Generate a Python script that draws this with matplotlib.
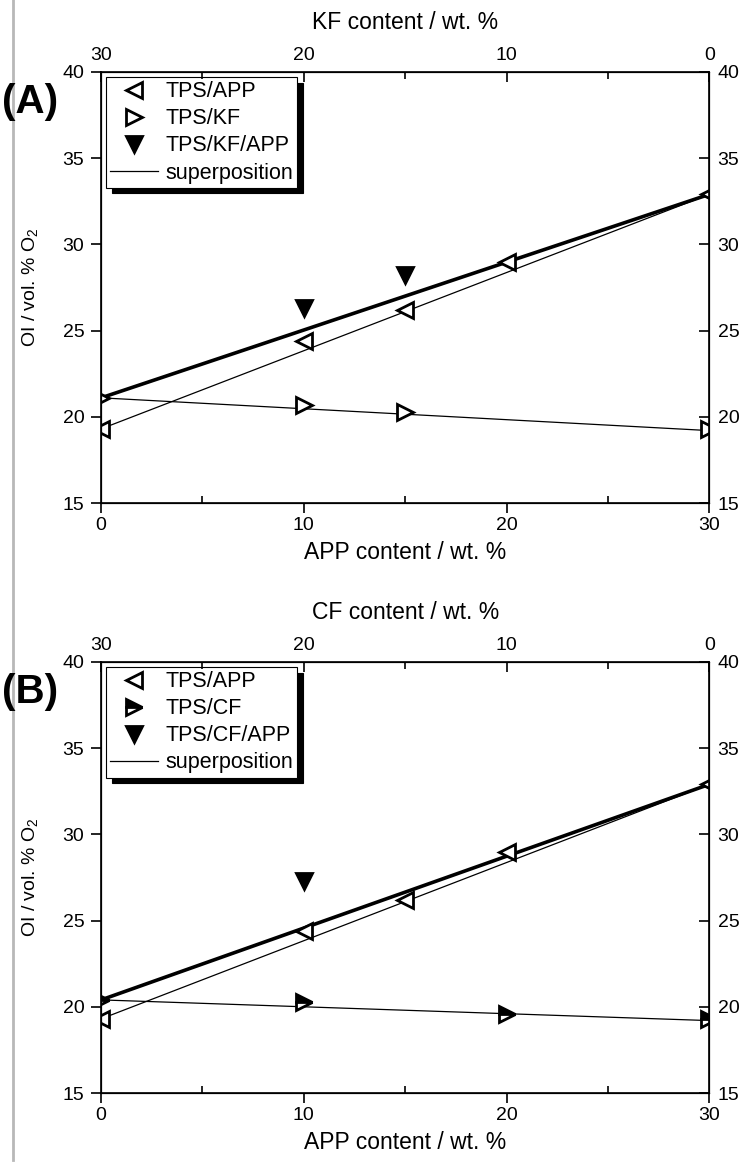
import matplotlib
matplotlib.use("Agg")
import matplotlib.pyplot as plt
from matplotlib.lines import Line2D

plt.rcParams['font.family'] = ['Liberation Sans', 'DejaVu Sans']
plt.rcParams['mathtext.default'] = 'regular'

# APP content axis (bottom); filler content on top axis is 30 - APP
app_x = [0, 10, 15, 20, 30]
tps_app = [19.3, 24.4, 26.2, 29.0, 32.9]

# panel A: KF
kf_x = [0, 10, 15, 30]
tps_kf = [21.1, 20.7, 20.3, 19.3]
kf_app_x = [10, 15]
tps_kf_app = [26.3, 28.2]

# panel B: CF
cf_x = [0, 10, 20, 30]
tps_cf = [20.4, 20.3, 19.6, 19.3]
cf_app_x = [10]
tps_cf_app = [27.3]

# superposition lines (end points at APP = 0 and 30)
sup_x = [0, 30]
sup_app = [19.3, 32.9]
sup_kf = [21.1, 19.2]
sup_kf_total = [21.1, 32.9]
sup_cf = [20.4, 19.2]
sup_cf_total = [20.4, 32.9]

panels = [
    dict(tag="(A)", filler="KF", fx=kf_x, fy=tps_kf, fill2='none', ax_x=kf_app_x, ax_y=tps_kf_app,
         s2=sup_kf, s3=sup_kf_total, pos=[0.135, 0.5686, 0.812, 0.3697]),
    dict(tag="(B)", filler="CF", fx=cf_x, fy=tps_cf, fill2='top', ax_x=cf_app_x, ax_y=tps_cf_app,
         s2=sup_cf, s3=sup_cf_total, pos=[0.135, 0.0626, 0.812, 0.3697]),
]

fig = plt.figure(figsize=(7.49, 11.66), dpi=100)
# grey rule along the left edge
fig.add_artist(Line2D([0.0175, 0.0175], [0.005, 1.0], transform=fig.transFigure,
                      color='#b8b8b8', lw=2))

mk = dict(ls='none', mec='k', mew=2.0, color='k')
for p in panels:
    ax = fig.add_axes(p['pos'])
    ax.plot(sup_x, sup_app, color='k', lw=0.9)
    ax.plot(sup_x, p['s2'], color='k', lw=0.9)
    ax.plot(sup_x, p['s3'], color='k', lw=2.6)
    h1, = ax.plot(app_x, tps_app, marker='<', ms=11, mfc='white', **mk)
    if p['fill2'] == 'none':
        h2, = ax.plot(p['fx'], p['fy'], marker='>', ms=11, mfc='white', **mk)
    else:
        h2, = ax.plot(p['fx'], p['fy'], marker='>', ms=11, mfc='k', fillstyle=p['fill2'],
                      markerfacecoloralt='white', **mk)
    h3, = ax.plot(p['ax_x'], p['ax_y'], marker='v', ms=12, mfc='k', **mk)
    h4 = Line2D([], [], color='k', lw=0.9)

    ax.set_xlim(0, 30)
    ax.set_ylim(15, 40)
    ax.set_xticks([0, 10, 20, 30])
    ax.set_xticks([5, 15, 25], minor=True)
    ax.set_yticks([15, 20, 25, 30, 35, 40])
    ax.tick_params(axis='x', which='major', direction='out', length=7, width=1.2, labelsize=14, pad=3)
    ax.tick_params(axis='x', which='minor', direction='in', length=5, width=1.2)
    ax.tick_params(axis='y', direction='out', length=7, width=1.2, labelsize=14, pad=5)
    for s in ax.spines.values():
        s.set_linewidth(1.2)
    ax.set_xlabel("APP content / wt. %", fontsize=16.5, labelpad=5)
    ax.set_ylabel("OI / vol. % O$_2$", fontsize=14, labelpad=16)

    axt = ax.twiny()
    axt.set_xlim(30, 0)
    axt.set_xticks([30, 20, 10, 0])
    axt.set_xticks([25, 15, 5], minor=True)
    axt.tick_params(axis='x', which='both', direction='in', length=7, width=1.2, labelsize=14, pad=6)
    axt.tick_params(axis='x', which='minor', length=5)
    axt.set_xlabel(f"{p['filler']} content / wt. %", fontsize=16.5, labelpad=13)

    axr = ax.twinx()
    axr.set_ylim(15, 40)
    axr.set_yticks([15, 20, 25, 30, 35, 40])
    axr.tick_params(axis='y', direction='in', length=7, width=1.2, labelsize=14, pad=6)

    leg = ax.legend([h1, h2, h3, h4],
                    ["TPS/APP", f"TPS/{p['filler']}", f"TPS/{p['filler']}/APP", "superposition"],
                    loc='upper left', bbox_to_anchor=(0.008, 0.988), borderaxespad=0,
                    fancybox=False, framealpha=1, edgecolor='k', fontsize=15.5,
                    handlelength=2.2, handletextpad=0.35, labelspacing=0.28, borderpad=0.2,
                    shadow={'ox': 4, 'oy': -4, 'color': 'k', 'alpha': 1})
    leg.get_frame().set_linewidth(0.8)
    leg.set_zorder(10)

    fig.text(0.003, p['pos'][1] + p['pos'][3] - 0.026, p['tag'], fontsize=29, fontweight='bold',
             va='center', ha='left')

fig.savefig("out.png", dpi=100)
